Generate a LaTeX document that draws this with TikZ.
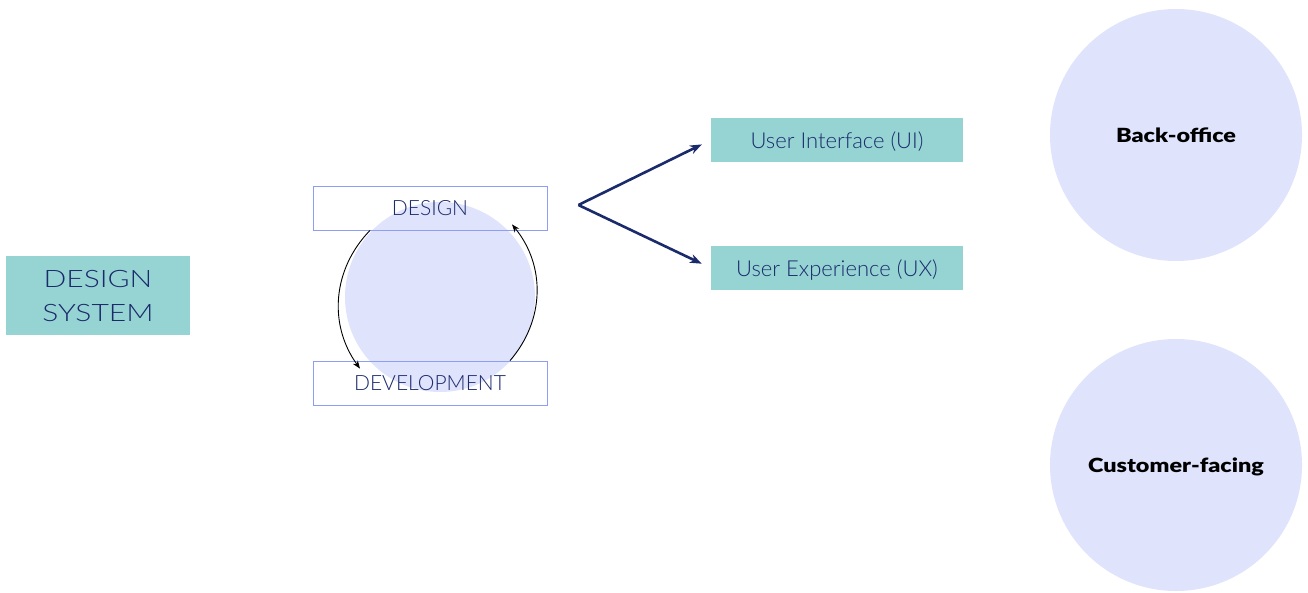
\documentclass[tikz,border=0pt]{standalone}
\usepackage{fontspec}
\usepackage{xcolor}
\usepackage{tikz}
\usetikzlibrary{positioning,arrows.meta}
\newfontfamily\thinfont{Lato Light}
\newfontfamily\widethinfont[FakeStretch=1.25]{Lato Light}
\newfontfamily\heavyfont[FakeStretch=1.2]{Lato Black}
\definecolor{dsteal}{HTML}{96D4D4}
\definecolor{dsnavy}{HTML}{1B2A6B}
\definecolor{dsedge}{HTML}{8F9EF5}
\definecolor{dsblob}{HTML}{DFE3FC}

\begin{document}
\begin{tikzpicture}[x=1pt, y=-1pt,
    teal box/.style={fill=dsteal, text=dsnavy, inner sep=0pt, text depth=0pt, minimum width=252pt, minimum height=44pt, font=\thinfont\fontsize{22}{24}\selectfont},
    cycle box/.style={draw=dsedge, line width=0.8pt, inner sep=0pt, text depth=0pt, minimum width=234pt, minimum height=44pt, text=dsnavy, font=\thinfont\fontsize{21}{24}\selectfont},
    blob/.style={circle, fill=dsblob, inner sep=0pt, text depth=0pt, minimum size=252pt, font=\heavyfont\fontsize{19.5}{22}\selectfont}]
    \useasboundingbox (0,0) rectangle (1308,592);
    \node[teal box, minimum width=184pt, minimum height=79pt, align=center, font=\widethinfont\fontsize{24}{34}\selectfont] (dsys) at (98,295.5) {DESIGN\\SYSTEM};

    % design / development loop
    \node[circle, fill=dsblob, minimum size=190pt] (cycle) at (440,297) {};
    \node[cycle box] (design) at (430,208) {DESIGN};
    \node[cycle box, below=175pt of design.center, anchor=center] (dev) {DEVELOPMENT};
    \draw[-{Stealth[length=8pt,width=6pt]}, line width=0.9pt] ([xshift=-60pt]design.south) to[bend right=40] ([xshift=-70pt,yshift=-8pt]dev.north);
    \draw[-{Stealth[length=8pt,width=6pt]}, line width=0.9pt] ([xshift=80pt]dev.north) to[bend right=40] ([xshift=82pt,yshift=6pt]design.south);

    % UI / UX
    \node[teal box] (ui) at (837,140) {User Interface (UI)};
    \node[teal box, below=128pt of ui.center, anchor=center] (ux) {User Experience (UX)};
    \coordinate (fork) at ([xshift=31pt,yshift=3pt]design.east);
    \draw[-{Stealth[length=12pt,width=9pt]}, draw=dsnavy, fill=dsnavy, line width=2.6pt, shorten >=10pt] (fork) -- (ui.west);
    \draw[-{Stealth[length=12pt,width=9pt]}, draw=dsnavy, fill=dsnavy, line width=2.6pt, shorten >=10pt] (fork) -- (ux.west);

    \node[blob] (back) at (1176,135) {Back-office};
    \node[blob] (cust) at (1176,465) {Customer-facing};
\end{tikzpicture}
\end{document}
